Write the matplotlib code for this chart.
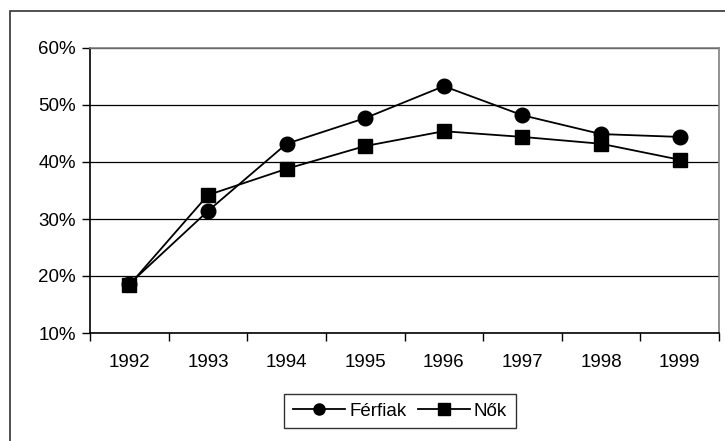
import matplotlib
matplotlib.use("Agg")
import matplotlib.pyplot as plt
from matplotlib.ticker import FixedLocator, PercentFormatter
from matplotlib.patches import Rectangle
from matplotlib.lines import Line2D

years = ["1992", "1993", "1994", "1995", "1996", "1997", "1998", "1999"]
ferfiak = [18.6, 31.4, 43.2, 47.7, 53.3, 48.2, 44.9, 44.4]
nok = [18.4, 34.2, 38.8, 42.8, 45.4, 44.4, 43.2, 40.4]
yticks = [10, 20, 30, 40, 50, 60]

plt.rcParams['font.family'] = ['Liberation Sans', 'DejaVu Sans']
FS = 13.5

fig = plt.figure(figsize=(7.25, 4.41), dpi=100)
fig.patches.append(Rectangle((10/725, -0.1), 1.2, 1 - 11/441 + 0.1, transform=fig.transFigure,
                             fill=False, edgecolor='#333333', linewidth=1.2))
ax = fig.add_axes([90/725, 108/441, 629/725, 285/441])

x = list(range(len(years)))
ax.plot(x, ferfiak, color='black', marker='o', markersize=10.5, linewidth=1.3, label='Férfiak')
ax.plot(x, nok, color='black', marker='s', markersize=10, linewidth=1.3, label='Nők')

ax.set_xlim(-0.5, len(years) - 0.5)
ax.set_ylim(10, 60)
ax.set_yticks(yticks)
ax.yaxis.set_major_formatter(PercentFormatter(decimals=0))
ax.set_xticks(x)
ax.set_xticklabels(years)
ax.xaxis.set_minor_locator(FixedLocator([i - 0.5 for i in range(len(years) + 1)]))
ax.tick_params(axis='x', which='major', length=0, pad=15, labelsize=FS)
ax.tick_params(axis='x', which='minor', length=6, width=1, direction='out')
ax.tick_params(axis='y', which='major', length=6, width=1, direction='out', labelsize=FS, pad=4)

ax.yaxis.grid(True, color='black', linewidth=0.9)
ax.set_axisbelow(True)
for s in ['left', 'bottom']:
    ax.spines[s].set_color('black')
    ax.spines[s].set_linewidth(1.2)
for s in ['top', 'right']:
    ax.spines[s].set_color('#808080')
    ax.spines[s].set_linewidth(1.2)

handles = [Line2D([], [], color='black', marker='o', markersize=8, linewidth=1.3),
           Line2D([], [], color='black', marker='s', markersize=8, linewidth=1.3)]
leg = fig.legend(handles, ['Férfiak', 'Nők'], loc='center',
                 bbox_to_anchor=(400/725, 1 - 411/441), ncol=2, frameon=True,
                 fancybox=False, edgecolor='black', fontsize=FS, handlelength=2.8,
                 handletextpad=0.2, columnspacing=0.6, borderpad=0.45)
leg.get_frame().set_linewidth(1.0)

fig.savefig("out.png", dpi=100)
